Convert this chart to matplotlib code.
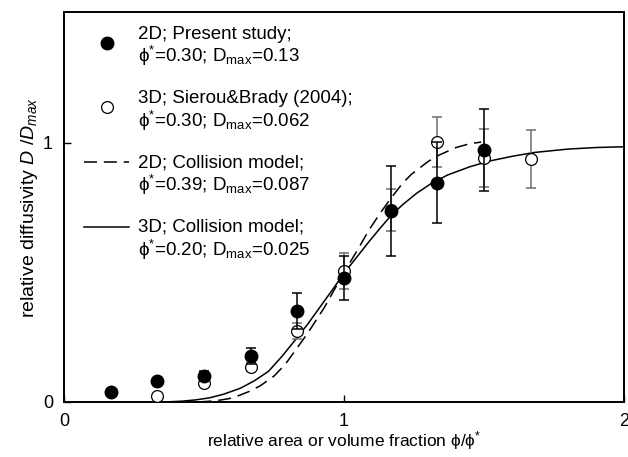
import matplotlib
matplotlib.use('Agg')
import matplotlib.pyplot as plt
from matplotlib.legend_handler import HandlerLine2D

plt.rcParams['font.family'] = ['Liberation Sans', 'DejaVu Sans']
plt.rcParams['mathtext.fontset'] = 'custom'
plt.rcParams['mathtext.rm'] = 'Liberation Sans'
plt.rcParams['mathtext.it'] = 'Liberation Sans:italic'

# relative area / volume fraction phi/phi*
x_present = [1/6, 2/6, 3/6, 4/6, 5/6, 1.0, 7/6, 8/6, 9/6]
d_present = [0.040, 0.082, 0.100, 0.178, 0.350, 0.478, 0.737, 0.847, 0.973]
err_present = [0.0, 0.0, 0.020, 0.032, 0.070, 0.086, 0.172, 0.157, 0.157]

x_sb = [2/6, 3/6, 4/6, 5/6, 1.0, 7/6, 8/6, 9/6, 10/6]
d_sb = [0.024, 0.072, 0.136, 0.274, 0.505, 0.741, 1.003, 0.941, 0.938]
err_sb = [0.006, 0.012, 0.016, 0.032, 0.070, 0.080, 0.096, 0.112, 0.112]

# collision model curves
x_2d_model = [0.48, 0.52, 0.55, 0.59, 0.62, 0.66, 0.70, 0.75, 0.79, 0.82, 0.87,
              0.93, 1.00, 1.05, 1.09, 1.13, 1.17, 1.21, 1.24, 1.30, 1.34, 1.40,
              1.45, 1.49]
y_2d_model = [0.000, 0.003, 0.006, 0.013, 0.023, 0.040, 0.062, 0.100, 0.145, 0.190,
              0.265, 0.365, 0.500, 0.590, 0.665, 0.730, 0.790, 0.845, 0.878, 0.928,
              0.953, 0.982, 0.997, 1.003]

x_3d_model = [0.36, 0.42, 0.47, 0.52, 0.57, 0.63, 0.68, 0.73, 0.78, 0.83, 0.87,
              0.91, 0.96, 1.00, 1.05, 1.09, 1.13, 1.17, 1.21, 1.26, 1.31, 1.37,
              1.45, 1.52, 1.60, 1.68, 1.80, 1.90, 2.00]
y_3d_model = [0.000, 0.003, 0.008, 0.016, 0.030, 0.053, 0.082, 0.118, 0.178, 0.245,
              0.300, 0.360, 0.435, 0.497, 0.565, 0.620, 0.672, 0.722, 0.762, 0.806,
              0.842, 0.876, 0.908, 0.930, 0.948, 0.963, 0.976, 0.982, 0.985]

PHI = '\u03d5'
lbl_present = f'2D; Present study;\n{PHI}$^{{*}}$=0.30; D$_{{\\mathrm{{max}}}}$=0.13'
lbl_sb = f'3D; Sierou&Brady (2004);\n{PHI}$^{{*}}$=0.30; D$_{{\\mathrm{{max}}}}$=0.062'
lbl_2d = f'2D; Collision model;\n{PHI}$^{{*}}$=0.39; D$_{{\\mathrm{{max}}}}$=0.087'
lbl_3d = f'3D; Collision model;\n{PHI}$^{{*}}$=0.20; D$_{{\\mathrm{{max}}}}$=0.025'


class RaisedHandler(HandlerLine2D):
    # lift the legend sample by a fraction of the font size
    def __init__(self, lift, **kw):
        super().__init__(**kw)
        self.lift = lift

    def create_artists(self, legend, orig_handle, xdescent, ydescent,
                       width, height, fontsize, trans):
        artists = super().create_artists(legend, orig_handle, xdescent, ydescent,
                                         width, height, fontsize, trans)
        for a in artists:
            a.set_ydata([y + self.lift * fontsize for y in a.get_ydata()])
        return artists


fig = plt.figure(figsize=(6.28, 4.57), dpi=100)
ax = fig.add_axes([0.102, 0.1204, 0.8916, 0.8533])

l2d = ax.plot(x_2d_model, y_2d_model, color='black', lw=1.1, dashes=(8.5, 4.5),
              label=lbl_2d, zorder=2)[0]
l3d = ax.plot(x_3d_model, y_3d_model, color='black', lw=1.1, label=lbl_3d,
              zorder=2)[0]

ax.errorbar(x_sb, d_sb, yerr=err_sb, fmt='none', ecolor='#6e6e6e',
            elinewidth=1.1, capsize=3.8, capthick=1.1, zorder=3)
psb = ax.plot(x_sb, d_sb, 'o', ms=8.5, mfc='white', mec='black', mew=0.9,
              linestyle='none', label=lbl_sb, zorder=4)[0]

ax.errorbar(x_present, d_present, yerr=err_present, fmt='none', ecolor='black',
            elinewidth=1.1, capsize=3.8, capthick=1.1, zorder=5)
ppr = ax.plot(x_present, d_present, 'o', ms=9, color='black',
              linestyle='none', label=lbl_present, zorder=6)[0]

leg = ax.legend([ppr, psb, l2d, l3d], [lbl_present, lbl_sb, lbl_2d, lbl_3d],
                loc='upper left', bbox_to_anchor=(0.012, 1.0), frameon=False,
                fontsize=13.5, handlelength=2.4, handletextpad=0.45,
                labelspacing=1.15, borderaxespad=0.32,
                handler_map={ppr: RaisedHandler(0.22), psb: RaisedHandler(0.22),
                             l2d: RaisedHandler(0.73), l3d: RaisedHandler(0.73)})
for t in leg.get_texts():
    t.set_linespacing(1.1)

ax.set_xlim(0, 2)
ax.set_ylim(0, 1.505)
ax.set_xticks([0, 1, 2])
ax.set_yticks([0, 1])
ax.tick_params(direction='in', length=5, width=1, labelsize=13, pad=8)
for s in ax.spines.values():
    s.set_linewidth(1.4)

ax.set_xlabel('relative area or volume fraction ' + PHI + '/' + PHI + '$^{*}$',
              fontsize=12.5, labelpad=-1)
ax.set_ylabel('relative diffusivity $D\\ /D_{max}$', fontsize=14, labelpad=2)

fig.savefig('out.png', dpi=100)
